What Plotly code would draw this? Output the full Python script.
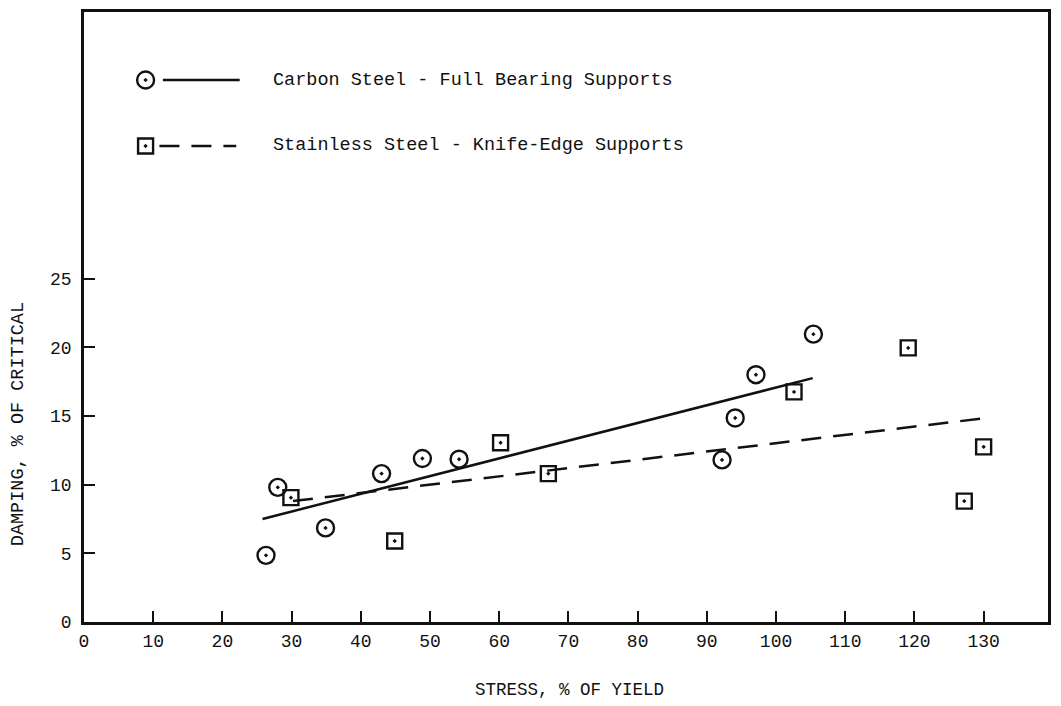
import plotly.graph_objects as go

# Carbon steel, full bearing supports
carbon_stress = [26.3, 28.0, 34.9, 43.0, 48.9, 54.2, 92.2, 94.1, 97.1, 105.4]
carbon_damping = [4.85, 9.8, 6.85, 10.8, 11.9, 11.85, 11.8, 14.85, 18.0, 20.95]

# Stainless steel, knife-edge supports
stainless_stress = [29.9, 44.9, 60.2, 67.1, 102.6, 119.1, 127.2, 130.0]
stainless_damping = [9.05, 5.9, 13.05, 10.8, 16.75, 19.95, 8.8, 12.75]

# Fitted trend lines (end points)
carbon_fit_x = [25.8, 105.3]
carbon_fit_y = [7.5, 17.75]
stainless_fit_x = [30.2, 130.4]
stainless_fit_y = [8.8, 14.85]

x_ticks = [0, 10, 20, 30, 40, 50, 60, 70, 80, 90, 100, 110, 120, 130]
y_ticks = [0, 5, 10, 15, 20, 25]

legend_labels = ["Carbon Steel - Full Bearing Supports",
                 "Stainless Steel - Knife-Edge Supports"]

FONT = "Liberation Mono"
INK = "#111111"
DASH = "20px,12px"

fig = go.Figure()

fig.add_trace(go.Scatter(
    x=carbon_fit_x, y=carbon_fit_y, mode="lines",
    line=dict(color=INK, width=2.5), hoverinfo="skip", showlegend=False))
fig.add_trace(go.Scatter(
    x=stainless_fit_x, y=stainless_fit_y, mode="lines",
    line=dict(color=INK, width=2.5, dash=DASH), hoverinfo="skip", showlegend=False))

circle_marker = dict(symbol="circle-open-dot", size=17, color=INK,
                     line=dict(width=2.4, color=INK))
square_marker = dict(symbol="square-open-dot", size=15, color=INK,
                     line=dict(width=2.4, color=INK))

fig.add_trace(go.Scatter(x=carbon_stress, y=carbon_damping, mode="markers",
                         marker=circle_marker, name=legend_labels[0], showlegend=False))
fig.add_trace(go.Scatter(x=stainless_stress, y=stainless_damping, mode="markers",
                         marker=square_marker, name=legend_labels[1], showlegend=False))

# Hand-placed key in the upper-left of the frame
key_rows = [
    dict(y=39.45, marker=circle_marker, dash="solid", line_x=[11.4, 22.5]),
    dict(y=34.65, marker=square_marker, dash=DASH, line_x=[10.9, 22.0]),
]
for row, label in zip(key_rows, legend_labels):
    fig.add_trace(go.Scatter(x=[8.9], y=[row["y"]], mode="markers",
                             marker=row["marker"], hoverinfo="skip", showlegend=False))
    fig.add_trace(go.Scatter(x=row["line_x"], y=[row["y"], row["y"]], mode="lines",
                             line=dict(color=INK, width=2.5, dash=row["dash"]),
                             hoverinfo="skip", showlegend=False))
    fig.add_annotation(x=27.0, y=row["y"], xref="x", yref="y", text=label,
                       showarrow=False, xanchor="left", yanchor="middle",
                       font=dict(family=FONT, size=18.5, color=INK))

axis_common = dict(
    showline=True, linecolor=INK, mirror=True,
    showgrid=False, zeroline=False,
    ticks="inside", ticklen=11, tickwidth=2.2, tickcolor=INK,
    tickfont=dict(family=FONT, size=18, color=INK),
)

fig.update_xaxes(range=[0, 139.3], tickvals=x_ticks, linewidth=3.2,
                 ticktext=[str(v) for v in x_ticks], **axis_common)
fig.update_yaxes(range=[0, 44.4], tickvals=y_ticks, linewidth=2.6,
                 ticklabelstandoff=6,
                 ticktext=[str(v) for v in y_ticks], **axis_common)

fig.add_annotation(text="STRESS, % OF YIELD", xref="paper", yref="paper",
                   x=0.504, y=-0.111, showarrow=False,
                   xanchor="center", yanchor="middle",
                   font=dict(family=FONT, size=17.5, color=INK))
fig.add_annotation(text="DAMPING, % OF CRITICAL", xref="paper", yref="paper",
                   x=-0.068, y=0.325, showarrow=False, textangle=-90,
                   xanchor="center", yanchor="middle",
                   font=dict(family=FONT, size=18.5, color=INK))

fig.update_layout(
    width=1061, height=706,
    margin=dict(l=84, r=13, t=12, b=84, autoexpand=False),
    paper_bgcolor="white", plot_bgcolor="white",
    showlegend=False,
)

fig.write_html("out.html")
